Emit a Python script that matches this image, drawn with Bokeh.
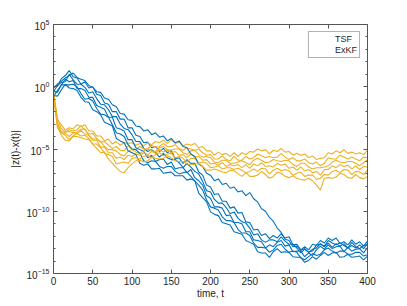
import numpy as np
from bokeh.plotting import figure
from bokeh.models import FixedTicker, LogAxis, LinearAxis, Legend, LegendItem, Range1d
from bokeh.embed import file_html
from bokeh.resources import INLINE

# time grid
t = list(range(0, 401, 5))

# TSF runs: log10 |z(t)-x(t)|, every 5 time units
tsf_1 = [0.0, 0.05, 0.65, 0.9, 1.3, 0.8, 0.7, 0.2, 0.4, -0.1,
         0.0, -0.6, -0.7, -1.3, -1.4, -2.0, -2.0, -2.6, -2.6, -3.3,
         -3.3, -3.9, -4.0, -4.5, -4.45, -4.9, -4.8, -5.2, -4.95, -5.3,
         -5.1, -5.8, -5.7, -6.15, -5.85, -6.15, -6.15, -6.85, -7.1, -7.9,
         -8.05, -8.65, -8.6, -9.2, -9.2, -9.75, -9.65, -10.15, -10.1, -10.85,
         -10.9, -11.5, -11.45, -11.95, -11.8, -12.2, -11.95, -12.15, -11.8, -12.15,
         -12.05, -12.7, -12.65, -13.1, -12.85, -13.1, -12.65, -12.75, -12.35, -12.55,
         -12.15, -12.35, -12.15, -12.6, -12.45, -12.7, -12.3, -12.65, -12.45, -12.8,
         -12.4]
tsf_2 = [-0.4, 0.1, 0.35, 0.4, 1.0, 0.55, 0.2, 0.2, -0.05, -0.5,
         -0.4, -0.95, -1.4, -1.45, -1.85, -2.4, -2.4, -3.0, -3.35, -3.45,
         -3.85, -4.4, -4.4, -4.95, -5.2, -5.05, -5.3, -5.65, -5.35, -5.7,
         -5.85, -5.85, -6.1, -6.5, -6.15, -6.45, -6.8, -7.0, -7.6, -8.35,
         -8.45, -9.05, -9.35, -9.35, -9.7, -10.2, -10.05, -10.55, -10.85, -10.95,
         -11.35, -11.9, -11.8, -12.3, -12.5, -12.3, -12.3, -12.45, -12.05, -12.4,
         -12.65, -12.65, -12.95, -13.35, -13.05, -13.3, -13.2, -12.7, -12.65, -12.8,
         -12.35, -12.55, -12.7, -12.55, -12.75, -12.95, -12.5, -12.85, -13.0, -12.75,
         -12.7]
tsf_3 = [-0.35, -0.45, 0.15, 0.6, 0.4, 0.5, -0.15, -0.15, -0.3, -0.85,
         -0.85, -1.5, -1.65, -1.8, -2.45, -2.45, -3.3, -3.4, -3.55, -4.25,
         -4.25, -4.9, -5.05, -5.2, -5.7, -5.5, -6.0, -5.85, -5.8, -6.25,
         -6.05, -6.6, -6.5, -6.5, -6.9, -6.65, -7.3, -7.55, -7.9, -8.75,
         -8.95, -9.65, -9.65, -9.75, -10.35, -10.3, -10.9, -10.9, -11.0, -11.65,
         -11.65, -12.3, -12.35, -12.45, -12.95, -12.7, -12.85, -12.5, -12.35, -12.8,
         -12.7, -13.25, -13.2, -13.2, -13.65, -13.35, -13.55, -13.1, -12.8, -13.05,
         -12.7, -13.0, -12.85, -12.8, -13.25, -12.9, -13.2, -13.05, -13.0, -13.35,
         -12.9]
tsf_4 = [-0.8, -0.3, 0.15, 0.15, 0.15, 0.2, 0.0, -0.55, -1.0, -0.95,
         -1.15, -1.75, -2.2, -2.25, -2.45, -3.05, -3.7, -3.8, -4.0, -4.65,
         -5.0, -5.05, -5.35, -5.95, -6.1, -5.95, -6.0, -6.4, -6.55, -6.4,
         -6.4, -6.8, -7.0, -6.9, -6.85, -7.2, -7.55, -7.9, -8.3, -9.1,
         -9.65, -9.75, -9.9, -10.45, -10.75, -10.75, -10.9, -11.45, -11.75, -11.75,
         -11.95, -12.55, -12.9, -12.9, -12.95, -13.3, -13.1, -12.75, -12.65, -13.05,
         -13.3, -13.2, -13.3, -13.75, -13.9, -13.65, -13.4, -13.55, -13.45, -13.1,
         -12.95, -13.2, -13.35, -13.2, -13.2, -13.45, -13.45, -13.3, -13.3, -13.6,
         -13.5]
tsf_5 = [-0.7, -0.75, -0.25, 0.2, -0.1, -0.15, -0.3, -0.85, -1.2, -1.25,
         -1.85, -2.0, -2.25, -2.85, -3.0, -3.15, -4.15, -4.35, -4.5, -5.15,
         -5.3, -5.45, -6.15, -6.3, -6.2, -6.6, -6.6, -6.55, -6.95, -6.9,
         -6.85, -7.15, -7.15, -7.15, -7.5, -7.4, -7.55, -8.55, -8.9, -9.25,
         -10.05, -10.25, -10.35, -10.9, -11.0, -11.1, -11.65, -11.75, -11.85, -12.35,
         -12.5, -12.65, -13.25, -13.35, -13.35, -13.7, -13.25, -13.0, -13.3, -13.25,
         -13.3, -13.65, -13.7, -13.7, -14.1, -13.95, -13.65, -13.85, -13.55, -13.3,
         -13.55, -13.35, -13.3, -13.7, -13.65, -13.45, -13.7, -13.65, -13.6, -13.9,
         -13.6]
tsf_6 = [-0.1, 0.2, 0.45, 0.7, 0.9, 1.1, 0.75, 0.6, 0.5, 0.1,
         -0.05, -0.4, -0.45, -0.9, -1.0, -1.45, -1.6, -2.15, -2.2, -2.65,
         -2.7, -3.15, -3.2, -3.55, -3.45, -3.85, -3.7, -4.05, -3.95, -4.35,
         -4.15, -4.5, -4.35, -4.8, -4.9, -5.4, -5.6, -6.2, -6.4, -6.95,
         -7.1, -7.55, -7.4, -7.85, -7.75, -8.15, -8.05, -8.45, -8.35, -8.75,
         -8.5, -9.0, -9.25, -9.8, -10.0, -10.5, -10.8, -11.35, -11.7, -12.25,
         -12.35, -12.85, -12.8, -13.15, -13.0, -13.3, -13.05, -12.95, -12.6, -12.85,
         -12.55, -12.9, -12.6, -12.8, -12.6, -12.95, -12.75, -12.95, -12.7, -13.0,
         -12.6]

# ExKF runs
exkf_1 = [-0.3, -2.65, -3.05, -3.5, -3.3, -3.4, -3.05, -3.2, -3.05, -3.55,
          -3.55, -3.95, -3.95, -4.35, -4.2, -4.6, -4.4, -4.7, -4.5, -4.55,
          -4.5, -4.7, -4.55, -4.75, -4.5, -4.65, -4.4, -4.5, -4.3, -4.55,
          -4.25, -4.55, -4.45, -4.75, -4.6, -4.7, -4.55, -4.9, -4.8, -5.15,
          -5.15, -5.5, -5.25, -5.45, -5.35, -5.6, -5.3, -5.6, -5.3, -5.45,
          -5.2, -5.25, -5.0, -5.15, -5.05, -5.4, -5.1, -5.2, -4.95, -5.25,
          -5.2, -5.5, -5.35, -5.5, -5.4, -5.7, -5.55, -5.85, -5.75, -5.7,
          -5.3, -5.4, -5.15, -5.3, -5.05, -5.35, -5.25, -5.4, -5.3, -5.45,
          -5.1]
exkf_2 = [-0.6, -2.55, -3.35, -3.65, -3.45, -3.55, -3.45, -3.15, -3.45, -3.8,
          -3.75, -4.15, -4.45, -4.4, -4.7, -4.95, -4.8, -5.1, -5.15, -4.75,
          -5.0, -5.05, -4.8, -5.0, -5.0, -4.7, -4.85, -4.8, -4.55, -4.8,
          -4.8, -4.65, -4.95, -5.1, -4.9, -5.0, -5.1, -5.0, -5.3, -5.5,
          -5.45, -5.8, -5.8, -5.55, -5.85, -5.95, -5.6, -5.9, -5.9, -5.6,
          -5.8, -5.7, -5.4, -5.55, -5.7, -5.6, -5.7, -5.65, -5.35, -5.65,
          -5.85, -5.7, -5.95, -5.95, -5.8, -6.1, -6.2, -6.05, -6.35, -6.15,
          -5.7, -5.8, -5.8, -5.5, -5.65, -5.8, -5.65, -5.8, -5.95, -5.65,
          -5.7]
exkf_3 = [-0.4, -2.9, -3.6, -3.65, -3.6, -3.7, -3.65, -3.4, -3.4, -3.9,
          -4.2, -4.2, -4.4, -4.8, -5.05, -5.05, -5.15, -5.45, -5.55, -5.2,
          -5.05, -5.25, -5.35, -5.15, -5.0, -5.15, -5.2, -4.9, -4.8, -5.05,
          -5.1, -5.0, -5.0, -5.3, -5.45, -5.15, -5.1, -5.45, -5.65, -5.6,
          -5.7, -6.05, -6.1, -5.9, -5.9, -6.15, -6.15, -6.05, -5.95, -6.1,
          -6.25, -5.9, -5.75, -5.9, -6.1, -6.05, -5.85, -5.95, -6.0, -5.9,
          -5.95, -6.25, -6.4, -6.15, -6.15, -6.45, -6.6, -6.5, -6.5, -6.45,
          -6.35, -6.05, -5.9, -6.05, -6.1, -6.0, -6.0, -6.15, -6.35, -6.1,
          -5.85]
exkf_4 = [-0.7, -2.9, -3.7, -3.75, -4.0, -3.7, -3.75, -3.5, -3.8, -3.9,
          -4.3, -4.3, -4.85, -4.85, -5.3, -5.3, -5.75, -5.65, -5.85, -5.5,
          -5.6, -5.4, -5.5, -5.3, -5.45, -5.2, -5.35, -5.05, -5.25, -5.1,
          -5.3, -5.2, -5.5, -5.45, -5.7, -5.4, -5.65, -5.6, -5.9, -5.85,
          -6.2, -6.15, -6.3, -6.1, -6.4, -6.25, -6.35, -6.25, -6.5, -6.25,
          -6.55, -6.2, -6.35, -6.1, -6.4, -6.35, -6.45, -6.15, -6.3, -6.2,
          -6.55, -6.45, -6.7, -6.45, -6.75, -6.65, -6.9, -6.8, -7.1, -6.65,
          -6.65, -6.35, -6.5, -6.25, -6.4, -6.3, -6.6, -6.35, -6.65, -6.4,
          -6.45]
exkf_5 = [-0.55, -3.3, -3.7, -3.9, -4.25, -3.95, -3.75, -3.95, -3.9, -4.15,
          -4.6, -4.6, -4.9, -5.35, -5.45, -5.6, -6.2, -6.1, -6.05, -6.15,
          -5.75, -5.7, -5.8, -5.6, -5.5, -5.7, -5.45, -5.3, -5.55, -5.4,
          -5.35, -5.7, -5.6, -5.75, -6.05, -5.75, -5.75, -6.15, -6.05, -6.15,
          -6.5, -6.45, -6.35, -6.6, -6.5, -6.5, -6.65, -6.55, -6.7, -6.9,
          -6.8, -6.6, -6.8, -6.55, -6.6, -7.0, -6.7, -6.55, -6.75, -6.65,
          -6.75, -7.1, -6.95, -6.85, -7.2, -7.1, -7.1, -7.45, -7.35, -7.05,
          -7.1, -6.8, -6.7, -6.9, -6.65, -6.7, -7.05, -6.8, -6.85, -7.05,
          -6.7]
exkf_6 = [-0.8, -3.15, -3.9, -4.3, -4.35, -4.0, -4.0, -4.1, -4.2, -4.25,
          -4.6, -4.95, -5.3, -5.25, -5.8, -6.15, -6.5, -6.8, -6.9, -6.5,
          -6.2, -5.95, -5.9, -6.05, -5.95, -5.65, -5.75, -5.8, -5.75, -5.55,
          -5.7, -5.95, -6.0, -6.0, -6.2, -6.25, -6.25, -6.15, -6.4, -6.7,
          -6.7, -6.6, -6.7, -6.85, -6.9, -6.7, -6.75, -7.0, -7.2, -6.9,
          -7.2, -7.2, -7.1, -6.8, -7.05, -7.35, -7.2, -6.85, -6.95, -7.2,
          -7.3, -7.15, -7.35, -7.45, -7.5, -7.35, -7.55, -7.9, -8.3, -7.35,
          -7.3, -7.35, -7.25, -6.95, -7.05, -7.3, -7.35, -7.05, -7.3, -7.4,
          -7.2]

tsf_runs = [tsf_1, tsf_2, tsf_3, tsf_4, tsf_5, tsf_6]
exkf_runs = [exkf_1, exkf_2, exkf_3, exkf_4, exkf_5, exkf_6]

x_ticks = [0, 50, 100, 150, 200, 250, 300, 350, 400]
y_major_exp = [-15, -10, -5, 0, 5]
y_minor_exp = list(range(-15, 6))

TSF_COLOR = "#0072BD"
EXKF_COLOR = "#EDB120"
TXT = "#262626"
AX = "#555555"
FONT = "Liberation Sans"

p = figure(width=400, height=305, y_axis_type="log",
           x_range=Range1d(0, 400), y_range=Range1d(1e-15, 1e5),
           output_backend="svg", toolbar_location=None,
           min_border_left=53, min_border_right=33,
           min_border_top=24, min_border_bottom=32)
p.xgrid.visible = False
p.ygrid.visible = False
p.outline_line_color = None
p.background_fill_color = "white"
p.border_fill_color = "white"

tarr = np.array(t, dtype=float)
for a, b in zip(tsf_runs, exkf_runs):
    p.line(tarr[:len(a)], 10.0 ** np.array(a), line_color=TSF_COLOR, line_width=1.1)
    p.line(tarr[:len(b)], 10.0 ** np.array(b), line_color=EXKF_COLOR, line_width=1.1)

# legend samples (pale, as in the reference)
leg_tsf = p.line([], [], line_color="#bcd6ee", line_width=1.5)
leg_exkf = p.line([], [], line_color="#f7dc9c", line_width=1.5)
legend = Legend(items=[LegendItem(label="TSF", renderers=[leg_tsf]),
                       LegendItem(label="ExKF", renderers=[leg_exkf])],
                location="top_right", margin=7, padding=2, spacing=1,
                label_text_font=FONT, label_text_font_size="9px",
                label_text_color=TXT, label_height=10, glyph_height=10,
                glyph_width=21, label_standoff=3,
                border_line_color="#666666", border_line_width=1,
                background_fill_alpha=1.0)
p.add_layout(legend)

def style_axis(ax, show_labels=True):
    ax.axis_line_color = AX
    ax.major_tick_line_color = AX
    ax.minor_tick_line_color = AX
    ax.major_tick_in = 4
    ax.major_tick_out = 0
    ax.minor_tick_in = 2
    ax.minor_tick_out = 0
    ax.major_label_text_font = FONT
    ax.major_label_text_font_size = "10px" if show_labels else "1px"
    ax.major_label_text_color = TXT if show_labels else None
    ax.axis_label_text_font = FONT
    ax.axis_label_text_font_size = "10px"
    ax.axis_label_text_font_style = "normal"
    ax.axis_label_text_color = TXT

p.xaxis.ticker = FixedTicker(ticks=x_ticks)
p.yaxis.ticker = FixedTicker(ticks=[10.0 ** e for e in y_major_exp],
                             minor_ticks=[10.0 ** e for e in y_minor_exp])
style_axis(p.xaxis[0])
style_axis(p.yaxis[0])
p.xaxis.axis_label = "time, t"
p.yaxis.axis_label = "|z(t)-x(t)|"
p.xaxis.major_label_standoff = 3
p.xaxis.axis_label_standoff = 0
p.yaxis.major_label_standoff = 4
p.yaxis.axis_label_standoff = 3

ra = LogAxis(ticker=FixedTicker(ticks=[10.0 ** e for e in y_major_exp],
                                minor_ticks=[10.0 ** e for e in y_minor_exp]))
style_axis(ra, show_labels=False)
ra.major_label_standoff = 0
p.add_layout(ra, "right")
ta = LinearAxis(ticker=FixedTicker(ticks=x_ticks))
style_axis(ta, show_labels=False)
ta.major_label_standoff = 0
p.add_layout(ta, "above")

open("out.html", "w").write(file_html(p, INLINE))
